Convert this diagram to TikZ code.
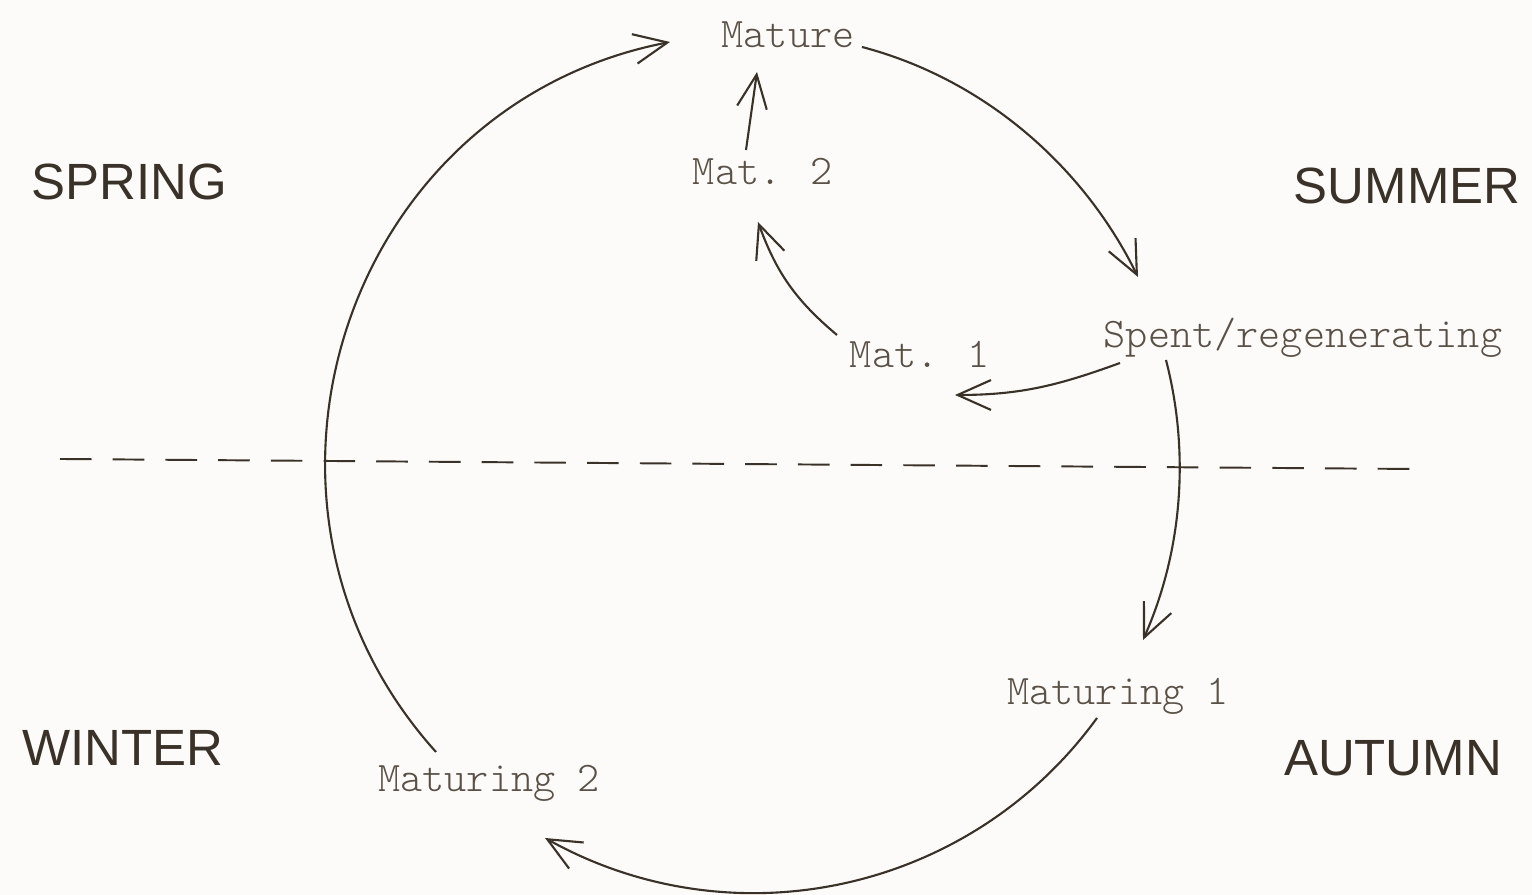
\documentclass[tikz,border=0pt]{standalone}
\usepackage{fontspec}
\setsansfont{Liberation Sans}
\newfontfamily\twfont{lmmonolt10-regular.otf}
\usetikzlibrary{arrows.meta}
\definecolor{ink}{HTML}{3A3128}
\definecolor{tw}{HTML}{5A5046}
\definecolor{paper}{HTML}{FCFBF9}
\begin{document}
\begin{tikzpicture}[x=0.02cm,y=0.02cm,
  lab/.style={font={\twfont\fontsize{24}{28}\selectfont}, text=tw, anchor=base, inner sep=0pt},
  season/.style={font={\sffamily\fontsize{29}{34}\selectfont}, text=ink, anchor=base, inner sep=0pt},
  link/.style={draw=ink, line width=1.2pt, -{Straight Barb[length=19pt,width=17pt,line width=1.2pt]}},
  divider/.style={draw=ink, line width=1.1pt, dash pattern=on 18pt off 12pt},
]
\fill[paper] (0,0) rectangle (1532,895);
\useasboundingbox (0,0) rectangle (1532,895);

% labels
\node[lab] (mature) at (788,847) {Mature};
\node[lab] (mattwo) at (763,710) {Mat. 2};
\node[lab] (matone) at (920,527) {Mat. 1};
\node[lab] (spent) at (1303,547) {Spent/regenerating};
\node[lab] (mturone) at (1118,190) {Maturing 1};
\node[lab] (mturtwo) at (489,103) {Maturing 2};

\node[season] (spring) at (129,695) {SPRING};
\node[season] (summer) at (1407,691) {SUMMER};
\node[season] (winter) at (123,129) {WINTER};
\node[season] (autumn) at (1393,119) {AUTUMN};

% connector end points
\coordinate (a1s) at (436,143);  \coordinate (a1e) at (670,853);
\coordinate (a2s) at (862,848);  \coordinate (a2e) at (1138,618);
\coordinate (a3s) at (1166,535); \coordinate (a3e) at (1143,255);
\coordinate (a4s) at (1097,177); \coordinate (a4e) at (545,57);
\coordinate (m2s) at (746,745);  \coordinate (m2e) at (757,823);
\coordinate (m1s) at (837,560);  \coordinate (m1e) at (758,673);
\coordinate (sps) at (1120,532); \coordinate (spe) at (955,500);
\coordinate (dl) at (60,436);    \coordinate (dr) at (1415,426);

% divider
\draw[divider] (dl) -- (dr);

% cycle
\draw[link] (a1s) to[out=132,in=191,looseness=1.14] (a1e);
\draw[link] (a2s) to[out=-14.7,in=116.2,looseness=0.89] (a2e);
\draw[link] (a3s) to[out=-75.5,in=66.1,looseness=0.88] (a3e);
\draw[link] (a4s) to[out=-126,in=-29.2,looseness=0.98] (a4e);

% inner arrows
\draw[link] (m2s) -- (m2e);
\draw[link] (m1s) to[out=140,in=-70] (m1e);
\draw[link] (sps) to[out=200,in=0] (spe);
\end{tikzpicture}
\end{document}
